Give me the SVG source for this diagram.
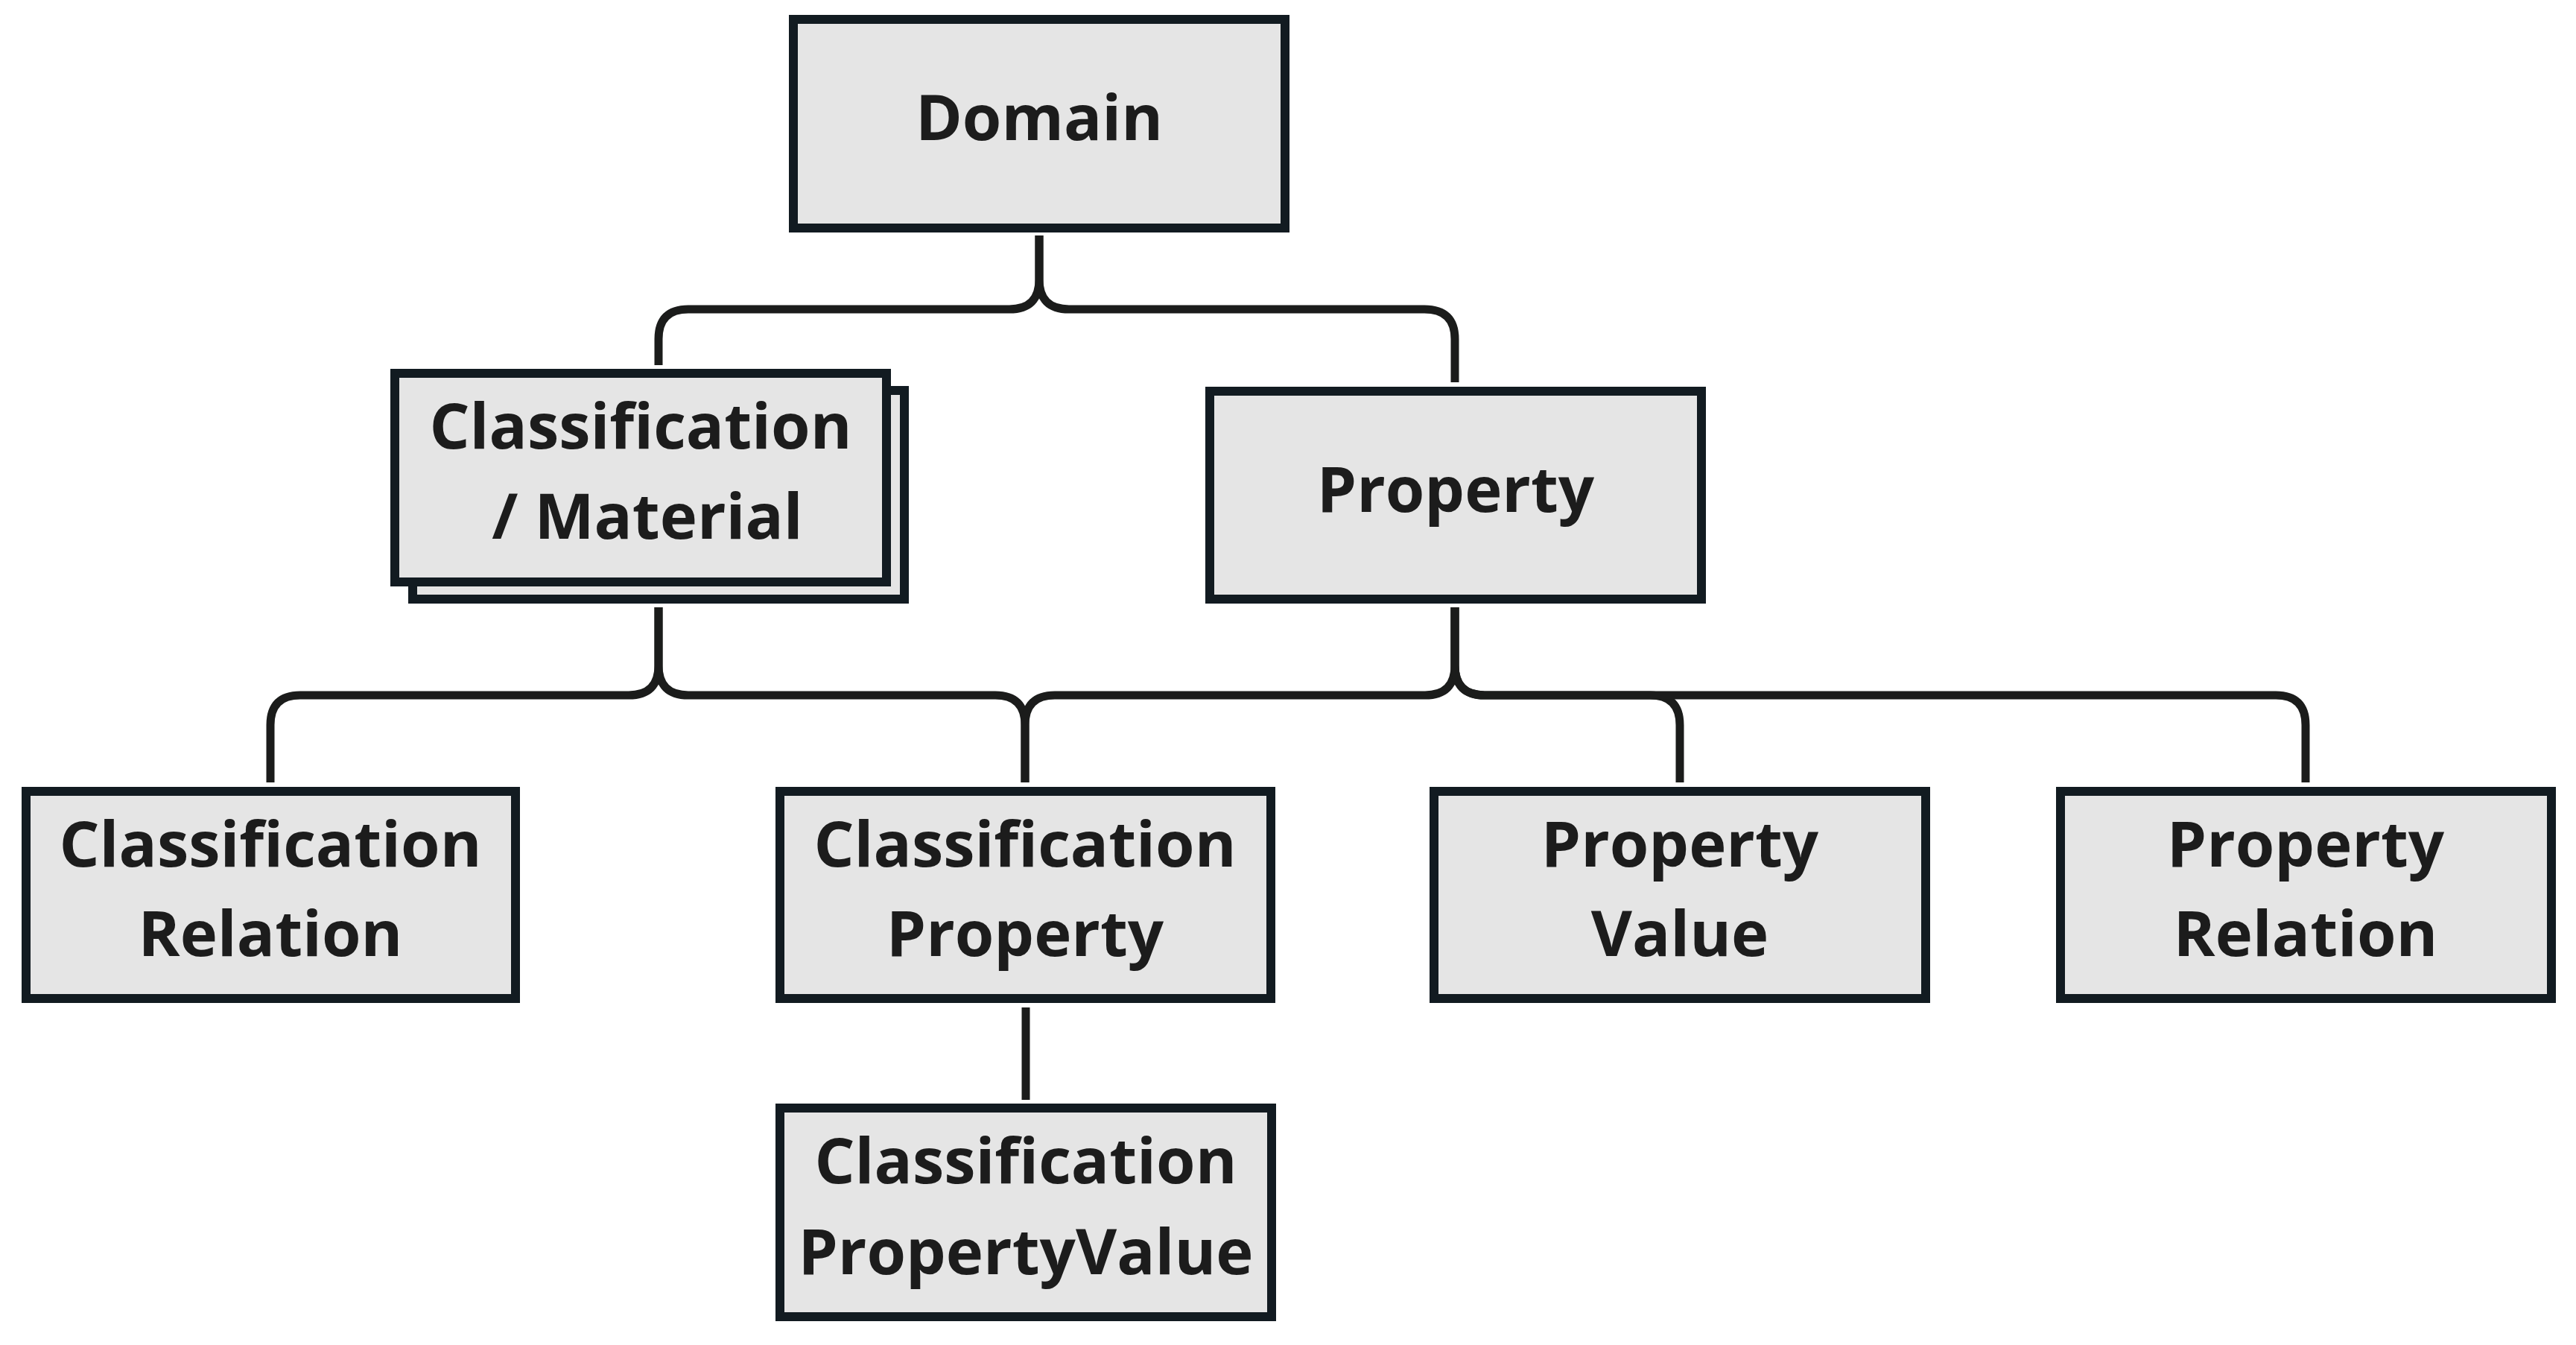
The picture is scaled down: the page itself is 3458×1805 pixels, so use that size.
<svg xmlns="http://www.w3.org/2000/svg" width="3458" height="1805" viewBox="0 0 3458 1805">
<style>
.box{fill:#e5e5e5;stroke:#121b21;stroke-width:12}
.lbl{font-family:"Open Sans","Noto Sans",sans-serif;font-weight:700;font-size:85px;fill:#1c1c1c;text-anchor:middle}
.edge{fill:none;stroke:#1b1c1b;stroke-width:11}
</style>
<rect width="3458" height="1805" fill="#ffffff"/>
<g id="connectors">
<path class="edge" d="M1395,316 V375 Q1395,415 1355,415 H924 Q884,415 884,455 V490"/>
<path class="edge" d="M1395,316 V375 Q1395,415 1435,415 H1912 Q1953,415 1953,455 V513"/>
<path class="edge" d="M884,815 V893 Q884,933 844,933 H403 Q363,933 363,973 V1050"/>
<path class="edge" d="M884,815 V893 Q884,933 924,933 H1336 Q1376,933 1376,973 V1050"/>
<path class="edge" d="M1953,815 V893 Q1953,933 1913,933 H1416 Q1376,933 1376,973 V1050"/>
<path class="edge" d="M1953,815 V893 Q1953,933 1993,933 H2215 Q2255,933 2255,973 V1050"/>
<path class="edge" d="M1953,815 V893 Q1953,933 1993,933 H3055 Q3095,933 3095,973 V1050"/>
<path class="edge" d="M1377,1352 V1476"/>
</g>
<g id="domain">
<rect class="box" x="1065" y="26" width="660" height="280"/>
<text class="lbl" x="1395" y="188">Domain</text>
</g>
<g id="classification-material">
<rect class="box" x="554" y="524" width="660" height="280"/>
<rect class="box" x="530" y="501" width="660" height="280"/>
<text class="lbl" x="860" y="602">Classification</text>
<text class="lbl" x="869" y="723">/ Material</text>
</g>
<g id="property">
<rect class="box" x="1624" y="525" width="660" height="279"/>
<text class="lbl" x="1954" y="687">Property</text>
</g>
<g id="classification-relation">
<rect class="box" x="35" y="1062" width="657" height="278"/>
<text class="lbl" x="363" y="1163">Classification</text>
<text class="lbl" x="363" y="1283">Relation</text>
</g>
<g id="classification-property">
<rect class="box" x="1047" y="1062" width="659" height="278"/>
<text class="lbl" x="1376" y="1163">Classification</text>
<text class="lbl" x="1376" y="1283">Property</text>
</g>
<g id="property-value">
<rect class="box" x="1925" y="1062" width="660" height="278"/>
<text class="lbl" x="2255" y="1163">Property</text>
<text class="lbl" x="2255" y="1283">Value</text>
</g>
<g id="property-relation">
<rect class="box" x="2766" y="1062" width="659" height="278"/>
<text class="lbl" x="3095" y="1163">Property</text>
<text class="lbl" x="3095" y="1283">Relation</text>
</g>
<g id="classification-property-value">
<rect class="box" x="1047" y="1487" width="660" height="280"/>
<text class="lbl" x="1377" y="1588">Classification</text>
<text class="lbl" x="1377" y="1710">PropertyValue</text>
</g>
</svg>
